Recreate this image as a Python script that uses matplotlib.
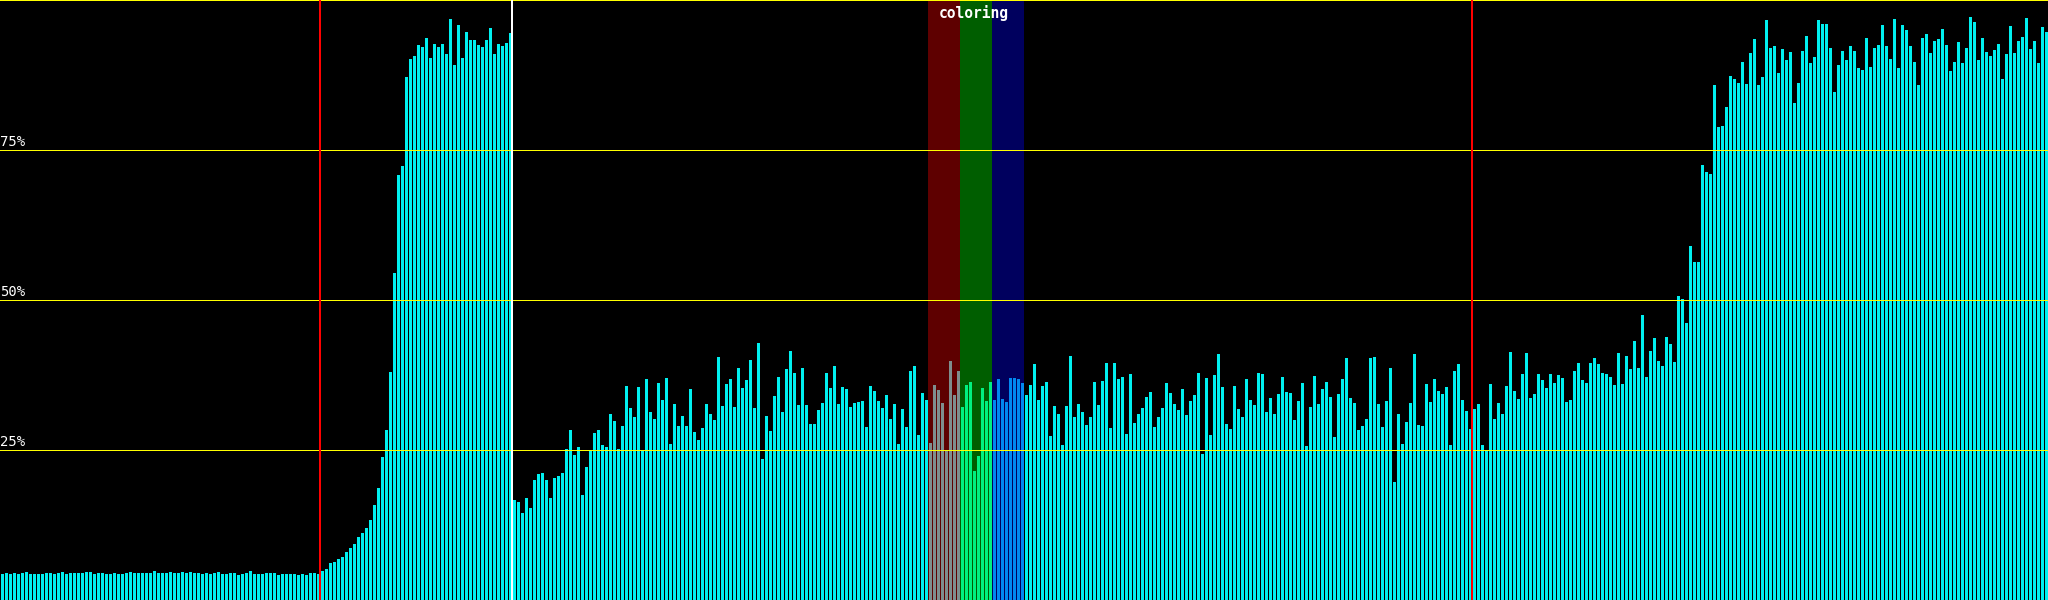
import numpy as np
import matplotlib.pyplot as plt

# bar heights in percent (512 bars)
idle = [4.3, 4.5, 4.3, 4.5, 4.3, 4.5, 4.7, 4.3, 4.3, 4.3,
        4.3, 4.5, 4.5, 4.3, 4.5, 4.7, 4.3, 4.5, 4.5, 4.5,
        4.5, 4.7, 4.7, 4.3, 4.5, 4.5, 4.3, 4.3, 4.5, 4.3,
        4.3, 4.5, 4.7, 4.5, 4.5, 4.5, 4.5, 4.5, 4.9, 4.5,
        4.5, 4.5, 4.7, 4.5, 4.5, 4.7, 4.5, 4.7, 4.5, 4.5,
        4.3, 4.5, 4.3, 4.5, 4.7, 4.3, 4.3, 4.5, 4.5, 4.1,
        4.3, 4.5, 4.9, 4.3, 4.3, 4.3, 4.5, 4.5, 4.5, 4.1,
        4.3, 4.3, 4.3, 4.3, 4.1, 4.3, 4.1, 4.5, 4.5, 4.3]
first_load = [4.9, 5.1, 6.1, 6.4, 6.8, 7.2, 8.0, 8.7, 9.3, 10.5,
              11.2, 12.0, 13.3, 15.8, 18.7, 23.9, 28.3, 38.0, 54.5, 70.9,
              72.4, 87.2, 90.2, 90.6, 92.5, 92.2, 93.7, 90.4, 92.7, 92.2,
              92.7, 91.0, 96.9, 89.1, 95.8, 90.4, 94.6, 93.3, 93.3, 92.5,
              92.2, 93.3, 95.4, 91.0, 92.7, 92.3, 92.9, 94.5]
middle = [16.7, 16.3, 14.5, 17.0, 15.3, 20.0, 21.0, 21.2, 20.0, 17.0,
          20.3, 20.7, 21.2, 25.2, 28.3, 24.2, 25.5, 17.5, 22.2, 25.0,
          27.8, 28.3, 25.8, 25.5, 31.0, 29.8, 25.2, 29.0, 35.7, 32.0,
          30.5, 35.5, 25.0, 36.8, 31.3, 30.2, 36.2, 33.3, 37.0, 26.0,
          32.7, 29.0, 30.7, 29.0, 35.2, 28.0, 26.7, 28.7, 32.7, 31.0,
          30.0, 40.5, 32.3, 36.0, 36.8, 32.2, 38.7, 35.3, 36.7, 40.0,
          32.0, 42.8, 23.5, 30.7, 28.2, 34.0, 37.2, 31.3, 38.5, 41.5,
          37.8, 32.5, 38.7, 32.5, 29.3, 29.3, 31.7, 32.8, 37.8, 35.3,
          39.0, 32.7, 35.5, 35.2, 32.2, 32.8, 33.0, 33.2, 28.8, 35.7,
          34.8, 33.2, 32.0, 34.2, 30.2, 32.7, 26.0, 31.8, 28.8, 38.2,
          39.0, 27.5, 34.5, 33.3,
          26.1, 35.8, 35.0, 32.8, 24.9, 39.9, 34.2, 38.1,
          32.1, 35.8, 36.4, 21.5, 24.0, 35.3, 33.2, 36.4,
          33.4, 36.9, 33.5, 33.0, 37.0, 37.0, 36.9, 36.2,
          34.2, 35.8, 39.3, 33.4, 35.7, 36.4, 27.4, 32.3, 31.0, 25.8,
          32.3, 40.7, 30.5, 32.7,
          31.3, 29.2, 30.5, 36.3, 32.5, 36.5, 39.5, 28.7, 39.5, 36.8,
          37.2, 27.7, 37.7, 29.5, 31.0, 32.0, 33.8, 34.7, 28.8, 30.5,
          32.0, 36.2, 34.5, 32.7, 31.7, 35.2, 30.8, 33.2, 34.2, 37.8,
          24.3, 37.0, 27.5, 37.5, 41.0, 35.5, 29.3, 28.5, 35.7, 31.8,
          30.5, 36.8, 33.3, 32.5, 37.8, 37.7, 31.3, 33.7, 31.0, 34.3,
          37.2, 34.7, 34.5, 30.0, 33.2, 36.2, 25.7, 32.2, 37.3, 32.7,
          35.2, 36.3, 33.8, 27.2, 34.3, 36.8, 40.3, 33.7, 32.8, 28.3,
          29.0, 30.2, 40.3, 40.5, 32.7, 28.8, 33.2, 38.7, 19.7, 31.0,
          26.0, 29.7, 32.8, 41.0, 29.2, 29.0, 36.0, 33.0, 36.8, 34.8,
          34.3, 35.5, 25.8, 38.2, 39.3, 33.3, 31.5, 28.5]
second_load = [31.8, 32.7, 25.8, 24.8, 36.0, 30.2, 32.8, 31.0, 35.7, 41.3,
               34.8, 33.5, 37.7, 41.2, 33.7, 34.3, 37.7, 36.7, 35.3, 37.7,
               36.2, 37.5, 37.0, 33.0, 33.3, 38.2, 39.5, 36.7, 36.2, 39.5,
               40.3, 39.3, 37.8, 37.7, 37.2, 35.8, 41.2, 36.0, 40.7, 38.5,
               43.2, 38.7, 47.5, 37.2, 41.5, 43.7, 39.8, 39.0, 43.8, 42.7,
               39.7, 50.7, 50.2, 46.2, 59.0, 56.3, 56.3, 72.5, 71.3, 71.0,
               85.8, 78.8, 79.0, 82.2, 87.3, 86.8, 86.2, 89.7, 86.0, 91.2,
               93.5, 85.8, 87.2, 96.7, 92.0, 92.3, 87.8, 91.8, 90.0, 91.3,
               82.8, 86.2, 91.5, 94.0, 89.5, 90.5, 96.7, 96.0, 96.0, 92.0,
               84.7, 89.2, 91.5, 90.0, 92.3, 91.5, 88.7, 88.3, 93.7, 88.8,
               92.0, 92.5, 95.8, 92.3, 90.2, 96.8, 88.7, 95.8, 95.0, 92.3,
               89.7, 85.8, 93.7, 94.3, 91.2, 93.2, 93.5, 95.2, 92.5, 88.2,
               89.7, 93.0, 89.5, 92.0, 97.2, 96.3, 90.0, 93.7, 91.3, 90.7,
               91.7, 92.7, 86.8, 91.0, 95.7, 91.2, 93.2, 93.8, 97.0, 91.8,
               93.2, 89.5, 95.5, 94.7]

levels = [25, 50, 75]
# (first bar, last bar, background, bar colour)
bands = [(232, 239, '#5e0000', '#7e8e8e'),
         (240, 247, '#005e00', '#00f080'),
         (248, 255, '#00005e', '#0088f0')]
red_marks = [79.375, 367.375]
white_marks = [127.375]

values = np.array(idle + first_load + middle + second_load)
n = len(values)
x = np.arange(n)
colors = ['#00f0f0'] * n
for start, end, bg, fg in bands:
    for i in range(start, end + 1):
        colors[i] = fg

fig = plt.figure(figsize=(20.48, 6), dpi=100, facecolor='black')
ax = fig.add_axes([0, 0, 1, 1])
ax.set_facecolor('black')
ax.set_xlim(-0.625, n - 0.625)
ax.set_ylim(0, 100)
ax.axis('off')

for start, end, bg, fg in bands:
    ax.axvspan(start - 0.625, end + 0.375, color=bg, lw=0, zorder=0)

ax.bar(x, values, width=0.75, color=colors, linewidth=0, antialiased=False, zorder=1)

for lv in levels:
    ax.axhline(lv, color='#ffff00', lw=0.72, antialiased=False, zorder=3)
    ax.text(-0.625, lv + 0.2, f'{lv}%', color='white', fontsize=10,
            family='DejaVu Sans Mono', ha='left', va='bottom', zorder=4)
ax.axhline(99.92, color='#ffff00', lw=0.72, antialiased=False, zorder=3)

for xm in red_marks:
    ax.axvline(xm, color='#ff0000', lw=1.44, antialiased=False, zorder=3)
for xm in white_marks:
    ax.axvline(xm, color='white', lw=1.44, antialiased=False, zorder=3)

ax.text(242.8, 99.2, 'coloring', color='white', fontsize=10.5, fontweight='bold',
        family='DejaVu Sans Mono', ha='center', va='top', zorder=4)

fig.savefig('out.png', dpi=100, facecolor='black')
